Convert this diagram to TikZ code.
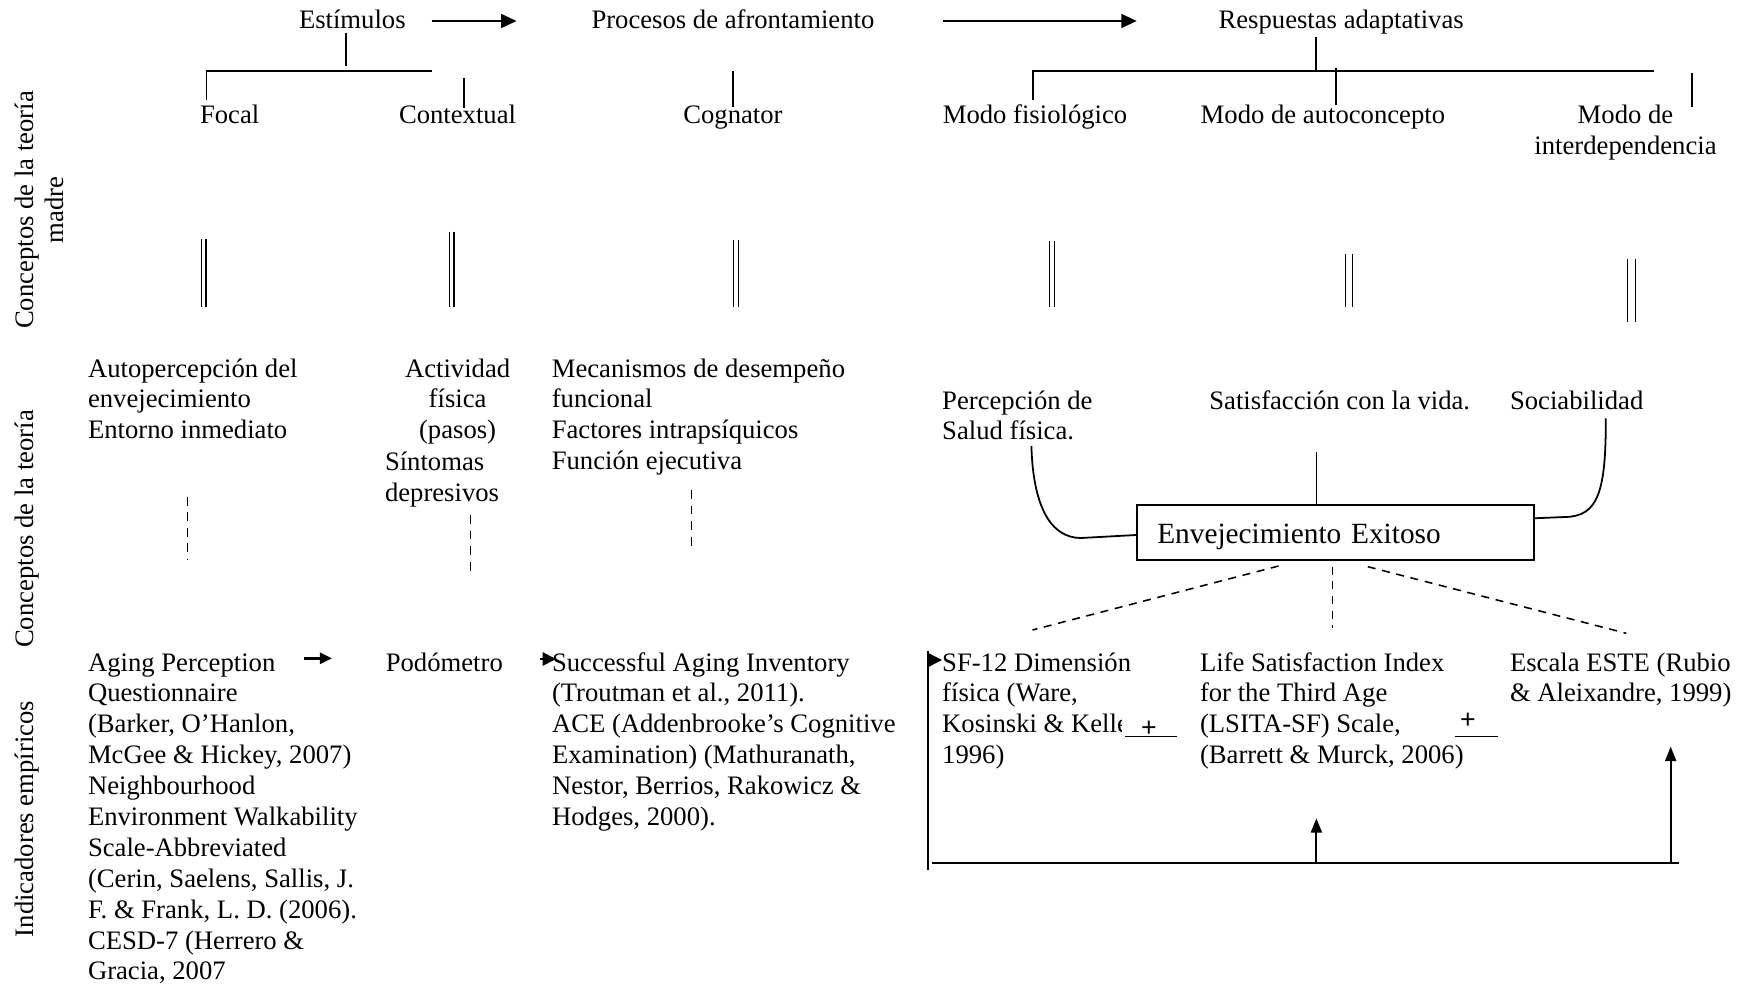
\documentclass[tikz,border=0pt]{standalone}
\usepackage{fontspec}
\setmainfont{Liberation Serif}
\newfontfamily\plusfont{Liberation Sans}
\usetikzlibrary{arrows.meta,calc}
\newcommand{\leftlines}[1]{\begin{tabular}[t]{@{}l@{}}#1\end{tabular}}
\newcommand{\midlines}[1]{\begin{tabular}[t]{@{}c@{}}#1\end{tabular}}

\begin{document}
\begin{tikzpicture}[x=0.45pt,y=-0.45pt,
  every node/.style={inner sep=0pt,outer sep=0pt,font=\fontsize{12}{13.9}\selectfont},
  txt/.style={anchor=base west},
  ctxt/.style={anchor=base},
  sidelabel/.style={rotate=90,anchor=base},
  ln/.style={line width=0.8pt},
  toparrow/.style={line width=1.2pt,-{Triangle[length=7pt,width=6.2pt]}},
  smallarrow/.style={line width=1.1pt,-{Triangle[length=5.5pt,width=5pt]}},
  feedarrow/.style={line width=0.9pt,-{Triangle[length=6.5pt,width=5pt]}},
  dsh/.style={line width=0.6pt,dash pattern=on 4pt off 3pt},
  bigdsh/.style={line width=0.7pt,dash pattern=on 3.6pt off 3pt},
  dbl/.style={line width=0.7pt,double,double distance=#1},
  mainbox/.style={draw,line width=0.9pt,text width=160.6pt,inner xsep=9pt,inner ysep=0pt,
    minimum height=24.75pt,align=left,text height=10.2pt,text depth=0pt,
    font=\fontsize{13.2}{15}\selectfont},
  plussign/.style={font=\plusfont\fontsize{12}{14}\selectfont}
]
\useasboundingbox (0,0) rectangle (1748,985);

% ---- side labels ----
\node[sidelabel] (labA) at (33,210) {\midlines{Conceptos de la teoría\\madre}};
\node[sidelabel] (labB) at (33,529) {Conceptos de la teoría};
\node[sidelabel] (labC) at (33,819) {Indicadores empíricos};

% ---- header row ----
\node[txt] (est)  at (299,29)    {Estímulos};
\node[txt] (proc) at (591.5,29)  {Procesos de afrontamiento};
\node[txt] (resp) at (1218.6,29) {Respuestas adaptativas};

\coordinate (a1s) at (431.6,21);  \coordinate (a1e) at (516.6,21);
\coordinate (a2s) at (942.8,21);  \coordinate (a2e) at (1136.8,21);
\draw[toparrow] (a1s) -- (a1e);
\draw[toparrow] (a2s) -- (a2e);

% ---- mother theory concepts ----
\node[txt] (focal) at (200,124)    {Focal};
\node[txt] (ctx)   at (399,124)    {Contextual};
\node[txt] (cog)   at (683.3,124)  {Cognator};
\node[txt] (fis)   at (942.8,124)  {Modo fisiológico};
\node[txt] (auto)  at (1200.7,124) {Modo de autoconcepto};
\node[ctxt] (inter) at (1625.5,124) {\midlines{Modo de\\interdependencia}};

% stimulus tree
\coordinate (estT) at (346.3,32.7); \coordinate (estB) at (346.3,66);
\coordinate (focT) at (206.6,100);  \coordinate (stL) at (206.6,71); \coordinate (stR) at (432.4,71);
\coordinate (ctxT) at (463.8,78.3); \coordinate (ctxB) at (463.8,108.3);
\draw[ln] (estT) -- (estB);
\draw[ln] (focT) -- (stL) -- (stR);
\draw[ln] (ctxT) -- (ctxB);
% coping process
\coordinate (cogT) at (733,71); \coordinate (cogB) at (733,106.7);
\draw[ln] (cogT) -- (cogB);
% adaptive responses tree
\coordinate (respT) at (1315.9,36.7); \coordinate (respB) at (1315.9,71);
\coordinate (fisT) at (1032.7,100); \coordinate (rL) at (1032.7,71); \coordinate (rR) at (1654.2,71);
\coordinate (autT) at (1335.7,68.3); \coordinate (autB) at (1335.7,105);
\coordinate (intT) at (1692.3,73.3); \coordinate (intB) at (1692.3,107.3);
\draw[ln] (respT) -- (respB);
\draw[ln] (fisT) -- (rL) -- (rR);
\draw[ln] (autT) -- (autB);
\draw[ln] (intT) -- (intB);

% ---- equivalence marks ----
\draw[dbl=1.5pt] (203.8,239.3) -- (203.8,306.7);
\draw[dbl=1.5pt] (451.8,231.7) -- (451.8,306.7);
\draw[dbl=1.5pt] (736,240)      -- (736,306.7);
\draw[dbl=1.5pt] (1052,241)     -- (1052,306.7);
\draw[dbl=2.4pt] (1348.9,254.3) -- (1348.9,306.7);
\draw[dbl=2.9pt] (1631.7,258.7) -- (1631.7,322.3);

% ---- middle-range theory concepts ----
\node[txt] (autop) at (88,377) {\leftlines{Autopercepción del\\envejecimiento\\Entorno inmediato}};
\node[ctxt] (activ) at (457.6,377) {\midlines{Actividad\\física\\(pasos)}};
\node[txt] (sint) at (385,470.5) {\leftlines{Síntomas\\depresivos}};
\node[txt] (mecan) at (551.8,377) {\leftlines{Mecanismos de desempeño\\funcional\\Factores intrapsíquicos\\Función ejecutiva}};
\node[txt] (salud) at (942.2,409) {\leftlines{Percepción de\\Salud física.}};
\node[txt] (satis) at (1209.4,409) {Satisfacción con la vida.};
\node[txt] (socia) at (1510,409) {Sociabilidad};

\node[mainbox] (ee) at (1335.7,532.5) {Envejecimiento Exitoso};

\coordinate (c1s) at (1031.4,446);
\draw[ln] (c1s) .. controls (1033,505) and (1050,538) .. (1081,538) -- ([yshift=-1.1pt]ee.west);
\coordinate (c2s) at (1316.4,452.3);
\draw[ln] (c2s) -- (c2s |- ee.north);
\coordinate (c3s) at (1605.8,418.3);
\draw[ln] (c3s) .. controls (1606,492) and (1598,516.5) .. (1565,517) -- ([yshift=6.4pt]ee.east);

% dashed links down to indicators
\draw[dsh] (187.7,496.7) -- (187.7,560);
\draw[dsh] (470.7,515)   -- (470.7,573.3);
\draw[dsh] (691.7,490)   -- (691.7,548.3);

\coordinate (d1s) at (1278.6,566);   \coordinate (d1e) at (1032.5,630);
\coordinate (d2s) at (1332.7,566.7); \coordinate (d2e) at (1332.7,628.3);
\coordinate (d3s) at (1367.8,566.7); \coordinate (d3e) at (1626.3,633.3);
\draw[bigdsh] (d1s) -- (d1e);
\draw[bigdsh] (d2s) -- (d2e);
\draw[bigdsh] (d3s) -- (d3e);

% ---- empirical indicators ----
\node[txt] (apq) at (88,671) {\leftlines{Aging Perception\\Questionnaire\\(Barker, O’Hanlon,\\McGee \& Hickey, 2007)\\Neighbourhood\\Environment Walkability\\Scale-Abbreviated\\(Cerin, Saelens, Sallis, J.\\F. \& Frank, L. D. (2006).\\CESD-7 (Herrero \&\\Gracia, 2007}};
\node[txt] (podo) at (385.8,671) {Podómetro};
\node[txt] (sai) at (552,671) {\leftlines{Successful Aging Inventory\\(Troutman et al., 2011).\\ACE (Addenbrooke’s Cognitive\\Examination) (Mathuranath,\\Nestor, Berrios, Rakowicz \&\\Hodges, 2000).}};
\node[txt] (sf) at (942.2,671) {\leftlines{SF-12 Dimensión\\física (Ware,\\Kosinski \& Keller,\\1996)}};
\node[txt] (lsi) at (1200,671) {\leftlines{Life Satisfaction Index\\for the Third Age\\(LSITA-SF) Scale,\\(Barrett \& Murck, 2006)}};
\node[txt] (este) at (1510,671) {\leftlines{Escala ESTE (Rubio\\\& Aleixandre, 1999)}};

\coordinate (ap1) at (304.3,658.3); \coordinate (ap2) at (332,658.3);
\draw[smallarrow] (ap1) -- (ap2);
\coordinate (sa1) at (540,659); \coordinate (sa2) at (556,659);
\draw[line width=0.8pt,-{Triangle[length=6pt,width=6pt]}] (sa1) -- (sa2);

% plus marks
\fill[white] (1121.7,704) rectangle (1177,735.5);
\node[plussign] (p1) at (1149,728.5) {+};
\draw[line width=0.7pt] (1125,736.7) -- (1176.7,736.7);
\node[plussign] (p2) at (1468,721) {+};
\draw[line width=0.7pt] (1455,736.7) -- (1498,736.7);

% feedback lines
\coordinate (fbT) at (928,651); \coordinate (fbB) at (928,870);
\draw[ln] (fbB) -- (fbT);
\coordinate (fbh1) at (928,660); \coordinate (fbh2) at (942,660);
\draw[line width=0.6pt,-{Triangle[length=6pt,width=6pt]}] (fbh1) -- (fbh2);
\coordinate (hbL) at (932.4,863.3); \coordinate (hbR) at (1678.8,863.3);
\draw[ln] (hbL) -- (hbR);
\coordinate (mA) at (1316.4,863.3); \coordinate (mB) at (1316.4,818.3);
\draw[feedarrow] (mA) -- (mB);
\coordinate (rA) at (1670.7,863.3); \coordinate (rB) at (1670.7,746.7);
\draw[feedarrow] (rA) -- (rB);
\end{tikzpicture}
\end{document}
